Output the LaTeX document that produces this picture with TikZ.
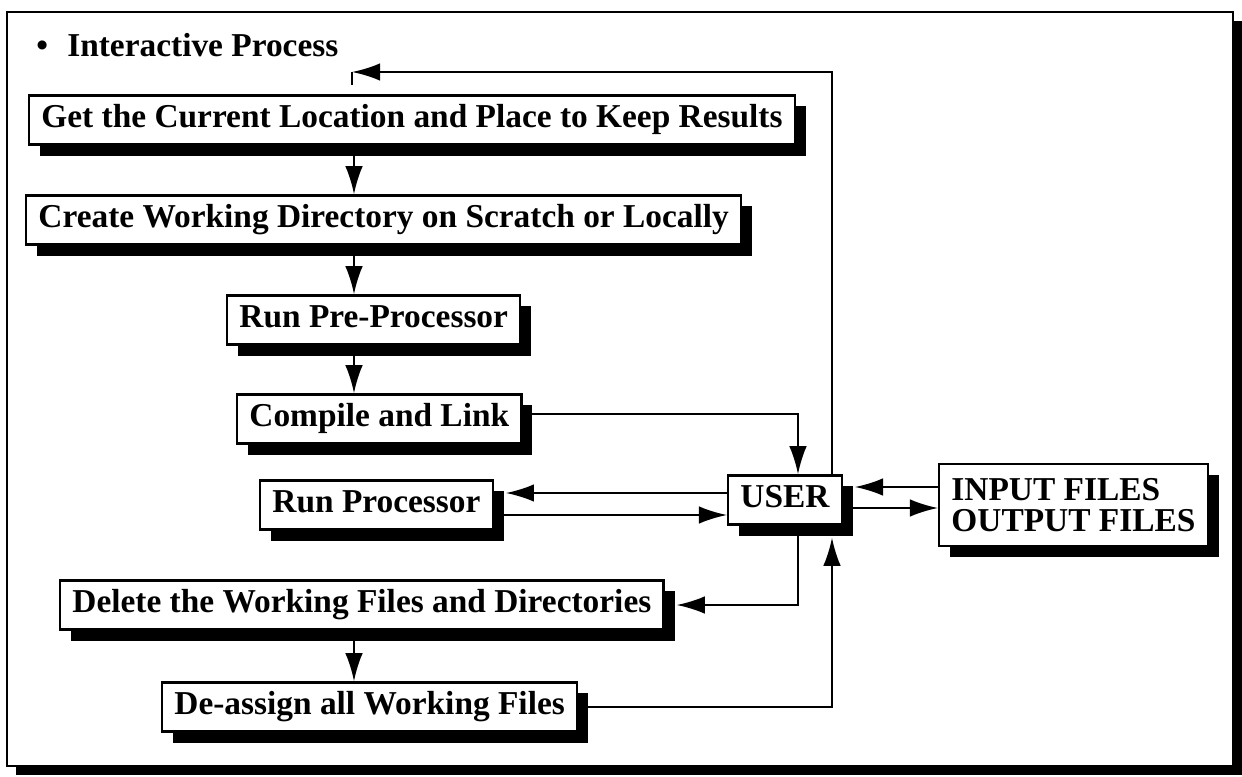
\documentclass[tikz,border=0pt]{standalone}
\usepackage{fontspec}
\setmainfont{Liberation Serif}
\usetikzlibrary{arrows.meta,shadows}

\tikzset{
  stepbox/.style={draw, fill=white, line width=1.3pt, anchor=west, inner xsep=7pt, inner ysep=5pt,
    text height=13.5pt, text depth=4.5pt,
    drop shadow={shadow xshift=0.22cm, shadow yshift=-0.22cm, opacity=1, fill=black}},
  flow/.style={-{Latex[length=16pt,width=10pt]}, line width=1.2pt}
}

\begin{document}
\begin{tikzpicture}[x=0.02cm, y=-0.02cm, font=\fontsize{19}{23}\selectfont\bfseries]
\useasboundingbox (0,0) rectangle (1242,777);

% outer frame and its shadow
\fill (16,21) rectangle (1242,775);
\draw[fill=white, line width=1.2pt] (7,12) rectangle (1233,766);

\node[anchor=west, inner sep=0pt] (title) at (36,45) {\textbullet\hspace{11pt}Interactive Process};

\node[stepbox] (get) at (28,120) {Get the Current Location and Place to Keep Results};
\node[stepbox] (create) at (25,220) {Create Working Directory on Scratch or Locally};
\node[stepbox] (prep) at (226,320) {Run Pre-Processor};
\node[stepbox] (compile) at (236,419) {Compile and Link};
\node[stepbox] (runproc) at (259,505) {Run Processor};
\node[stepbox] (user) at (727,500) {USER};
\node[stepbox, align=left, text height=, text depth=, inner ysep=8pt,
  font=\fontsize{19}{18}\selectfont\bfseries] (files) at (938,505) {INPUT FILES\\OUTPUT FILES};
\node[stepbox] (delete) at (59,605) {Delete the Working Files and Directories};
\node[stepbox] (deassign) at (161,707) {De-assign all Working Files};

\coordinate (down) at (354,0);
\coordinate (uin) at (798,0);
\coordinate (uout) at (832,0);
\coordinate (loop) at (352,72);

% main chain
\draw[flow] (get.south -| down) -- (create.north -| down);
\draw[flow] (create.south -| down) -- (prep.north -| down);
\draw[flow] (prep.south -| down) -- (compile.north -| down);
\draw[flow] (delete.south -| down) -- (deassign.north -| down);

% around the user
\draw[flow] (compile.east |- 0,414) -| (user.north -| uin);
\draw[flow, shorten >=0.24cm] (user.west |- 0,493) -- (runproc.east |- 0,493);
\draw[flow] (runproc.east |- 0,515) -- (user.west |- 0,515);
\draw[flow, shorten >=0.24cm] (files.west |- 0,487) -- (user.east |- 0,487);
\draw[flow] (user.east |- 0,508) -- (files.west |- 0,508);
\draw[flow, shorten >=0.24cm] (user.south -| uin) |- (delete.east);
\draw[flow, shorten >=0.24cm] (deassign.east) -| (user.south -| uout);

% back to the top
\draw[line width=1.2pt] (loop) -- ++(0,13);
\draw[flow] (user.north -| uout) |- (loop);
\end{tikzpicture}
\end{document}
